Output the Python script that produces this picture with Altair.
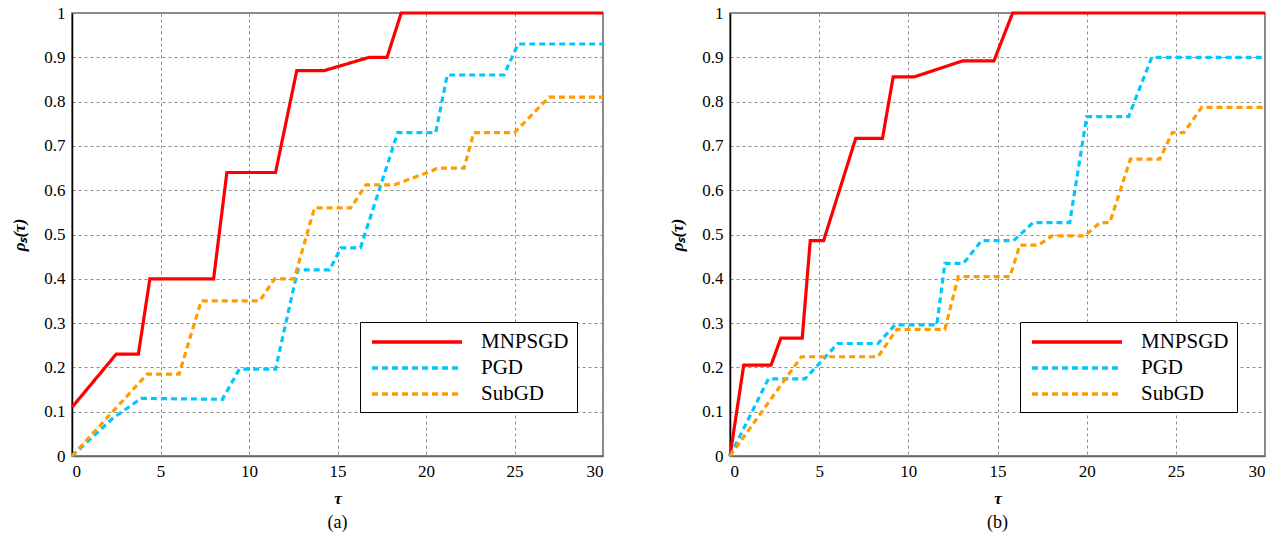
import altair as alt
import pandas as pd

SERIES = ["MNPSGD", "PGD", "SubGD"]
COLORS = ["#FF0000", "#00C8FF", "#FF9C00"]
DASHES = [[1, 0], [6, 4], [6, 4]]

# Panel (a)
a_mn_x = [0, 2.5, 3.75, 4.4, 8.0, 8.75, 11.5, 12.7, 14.25, 16.8, 17.8, 18.6, 30]
a_mn_y = [0.11, 0.23, 0.23, 0.40, 0.40, 0.64, 0.64, 0.87, 0.87, 0.90, 0.90, 1.0, 1.0]
a_pg_x = [0, 2.3, 3.9, 8.5, 9.45, 11.5, 12.75, 14.55, 15.2, 16.3, 18.4, 20.55, 21.2, 24.4, 25.2, 30]
a_pg_y = [0, 0.085, 0.13, 0.128, 0.196, 0.196, 0.42, 0.42, 0.47, 0.47, 0.73, 0.73, 0.86, 0.86, 0.93, 0.93]
a_sg_x = [0, 4.25, 6.05, 7.3, 10.6, 11.45, 12.55, 13.7, 15.75, 16.6, 18.2, 20.3, 20.65, 22.15, 22.7, 25.0, 26.95, 30]
a_sg_y = [0, 0.185, 0.185, 0.35, 0.35, 0.40, 0.40, 0.56, 0.56, 0.612, 0.612, 0.643, 0.65, 0.65, 0.73, 0.73, 0.81, 0.81]

# Panel (b)
b_mn_x = [0, 0.77, 2.3, 2.85, 4.05, 4.5, 5.25, 7.05, 8.55, 9.15, 10.35, 13.05, 14.8, 15.85, 30]
b_mn_y = [0, 0.205, 0.205, 0.266, 0.266, 0.486, 0.486, 0.717, 0.717, 0.856, 0.856, 0.892, 0.892, 1.0, 1.0]
b_pg_x = [0, 2.15, 4.2, 6.05, 8.3, 9.25, 11.6, 12.05, 13.1, 14.1, 15.9, 17.0, 19.05, 20.0, 22.35, 23.65, 30]
b_pg_y = [0, 0.174, 0.174, 0.254, 0.254, 0.296, 0.296, 0.435, 0.435, 0.486, 0.486, 0.527, 0.527, 0.766, 0.766, 0.90, 0.90]
b_sg_x = [0, 4.0, 8.3, 9.35, 12.05, 12.8, 15.7, 16.25, 17.3, 18.05, 19.9, 20.75, 21.3, 22.45, 24.1, 24.8, 25.45, 26.45, 30]
b_sg_y = [0, 0.224, 0.224, 0.286, 0.286, 0.405, 0.405, 0.476, 0.476, 0.497, 0.497, 0.527, 0.527, 0.67, 0.67, 0.73, 0.73, 0.787, 0.787]

X_TICKS = [0, 5, 10, 15, 20, 25, 30]
Y_TICKS = [0, 0.1, 0.2, 0.3, 0.4, 0.5, 0.6, 0.7, 0.8, 0.9, 1]

FONT = "Liberation Serif"


def frame(parts):
    rows = []
    for name, xs, ys in parts:
        for i, (x, y) in enumerate(zip(xs, ys)):
            rows.append({"series": name, "tau": x, "rho": y, "i": i})
    return pd.DataFrame(rows)


def panel(df, label, width, lx, ly):
    legend = alt.Legend(
        title=None, orient="none", legendX=lx, legendY=ly,
        labelFont=FONT, labelFontSize=21, labelColor="black", labelOffset=89,
        symbolType="M-0.8,0H8.2", symbolSize=400, symbolStrokeWidth=3.5,
        strokeColor="black", fillColor="white", padding=8,
        rowPadding=4, labelLimit=300,
    )
    return alt.Chart(df).mark_line(strokeWidth=3.2).encode(
        x=alt.X("tau:Q", scale=alt.Scale(domain=[0, 30], nice=False),
                axis=alt.Axis(values=X_TICKS, title="τ", format="d",
                              labelFont=FONT, titleFont=FONT)),
        y=alt.Y("rho:Q", scale=alt.Scale(domain=[0, 1], nice=False),
                axis=alt.Axis(values=Y_TICKS, title="ρₛ(τ)", labelFont=FONT, titleFont=FONT,
                              labelExpr="datum.value == 0 || datum.value == 1 ? format(datum.value, 'd') : format(datum.value, '.1f')")),
        color=alt.Color("series:N", scale=alt.Scale(domain=SERIES, range=COLORS), legend=legend),
        strokeDash=alt.StrokeDash("series:N", scale=alt.Scale(domain=SERIES, range=DASHES), legend=legend),
        order="i:Q",
    ).properties(
        width=width, height=443,
        title=alt.TitleParams(label, orient="bottom", font=FONT, fontSize=18,
                              fontWeight="normal", color="black", offset=8),
    )


dfa = frame([("MNPSGD", a_mn_x, a_mn_y), ("PGD", a_pg_x, a_pg_y), ("SubGD", a_sg_x, a_sg_y)])
dfb = frame([("MNPSGD", b_mn_x, b_mn_y), ("PGD", b_pg_x, b_pg_y), ("SubGD", b_sg_x, b_sg_y)])

left = panel(dfa, "(a)", 531, 288, 309)
right = panel(dfb, "(b)", 535, 290, 309)

chart = alt.hconcat(left, right, spacing=57).resolve_scale(
    color="independent", strokeDash="independent"
).properties(
    padding={"left": 10, "top": 3, "right": 5, "bottom": 5},
    background="white",
).configure(
    font=FONT,
).configure_view(
    stroke="#666666", strokeWidth=1.5,
).configure_axis(
    labelFont=FONT, labelFontSize=17, labelColor="black",
    titleFont=FONT, titleFontSize=17, titleFontWeight="bold", titleFontStyle="italic",
    titleColor="black",
    grid=True, gridColor="#8c8c8c", gridDash=[3, 3], gridWidth=1,
    domainWidth=1.5, ticks=False,
).configure_axisX(
    titlePadding=11, labelPadding=7, domainColor="#666666",
).configure_axisY(
    titlePadding=15, labelPadding=7, domainColor="black",
).configure_title(anchor="middle")

chart.save("out.html", embed_options={"renderer": "svg", "actions": False})
